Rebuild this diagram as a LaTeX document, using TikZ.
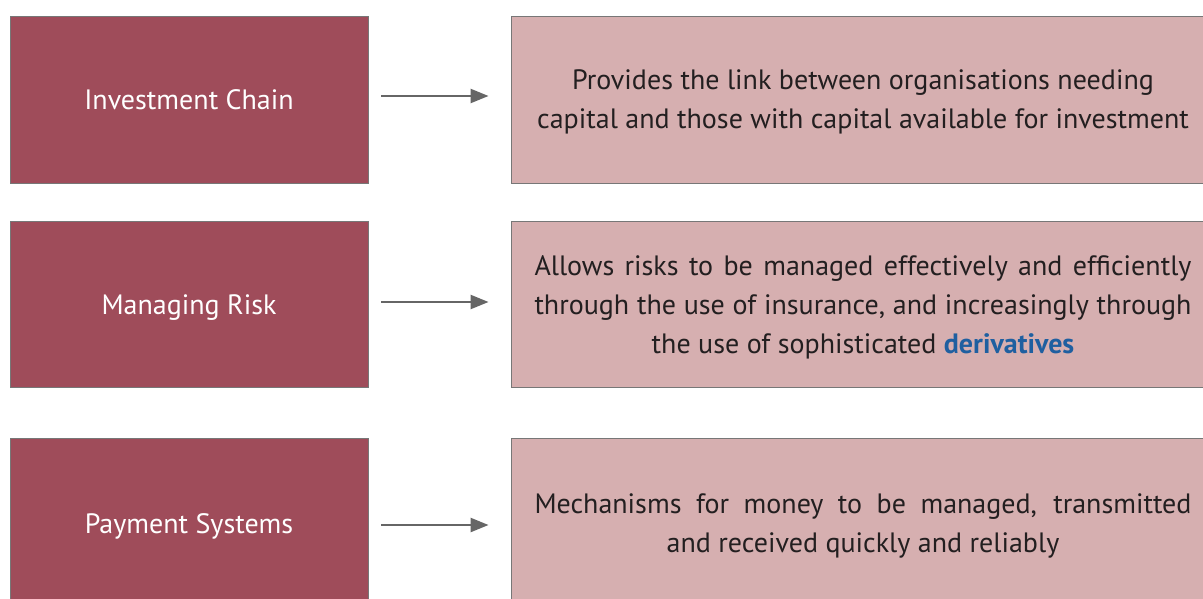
\documentclass[tikz,border=0pt]{standalone}
\usepackage{fontspec}
\setmainfont{PT Sans}
\usetikzlibrary{arrows.meta}
\definecolor{darkrose}{HTML}{9F4C5A}
\definecolor{lightrose}{HTML}{D6AFB0}
\definecolor{edgegray}{HTML}{777777}
\definecolor{arrowgray}{HTML}{666666}
\definecolor{txtdark}{HTML}{231F20}
\definecolor{linkblue}{HTML}{1F5FA0}
\newcommand{\mystrut}{\rule[-8pt]{0pt}{36pt}}
\tikzset{
  leftbox/.style={draw=edgegray, line width=0.9pt, fill=darkrose, minimum width=358pt, inner sep=0pt,
    text=white, font=\fontsize{28}{30}\selectfont},
  rightbox/.style={draw=edgegray, line width=0.9pt, fill=lightrose, minimum width=704pt, inner sep=0pt,
    text=txtdark, font=\fontsize{28}{39}\selectfont, align=center},
  conn/.style={draw=arrowgray, line width=2.4pt, -{Triangle[length=18pt,width=14pt]}}
}
\begin{document}
\begin{tikzpicture}[x=1pt,y=1pt]
\useasboundingbox (0,0) rectangle (1203,-599);
\clip (0,0) rectangle (1203,-599);
\node[leftbox, minimum height=167pt] (L1) at (189,-99.5) {\mystrut Investment Chain};
\node[leftbox, minimum height=166pt] (L2) at (189,-304) {\mystrut Managing Risk};
\node[leftbox, minimum height=170pt] (L3) at (189,-523) {\mystrut Payment Systems};
\node[rightbox, minimum height=167pt] (R1) at (863,-99.5) {\mystrut Provides the link between organisations needing\\\mystrut capital and those with capital available for investment};
\node[rightbox, minimum height=166pt] (R2) at (863,-304) {\mystrut\makebox[657pt][s]{Allows risks to be managed effectively and efficiently}\\\makebox[657pt][s]{through the use of insurance, and increasingly through}\\\mystrut the use of sophisticated {\color{linkblue}\bfseries derivatives}};
\node[rightbox, minimum height=170pt] (R3) at (863,-523) {\mystrut\makebox[657pt][s]{Mechanisms for money to be managed, transmitted}\\\mystrut and received quickly and reliably};
\draw[conn] ([xshift=13pt,yshift=3.5pt]L1.east) -- ([xshift=-22pt,yshift=3.5pt]R1.west);
\draw[conn] ([xshift=13pt,yshift=2pt]L2.east) -- ([xshift=-22pt,yshift=2pt]R2.west);
\draw[conn] ([xshift=13pt,yshift=-2pt]L3.east) -- ([xshift=-22pt,yshift=-2pt]R3.west);
\end{tikzpicture}
\end{document}
